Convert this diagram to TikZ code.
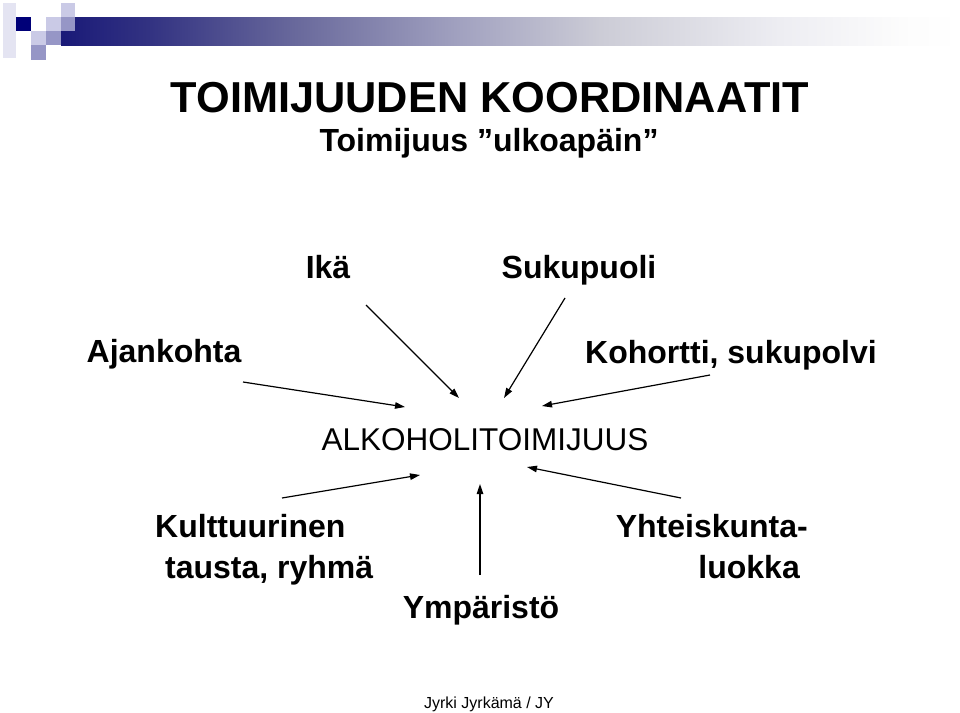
\documentclass[tikz,border=0pt]{standalone}
\usepackage{fontspec}
\setmainfont{Liberation Sans}
\usetikzlibrary{arrows.meta}
\definecolor{slidenavy}{RGB}{0, 0, 120}
\definecolor{squaremid}{RGB}{150, 150, 198}
\definecolor{squarelight}{RGB}{202, 202, 230}
\definecolor{squarepale}{RGB}{228, 228, 242}
\pgfdeclarehorizontalshading{slidebar}{100bp}{rgb(0bp)=(0.10,0.10,0.47); rgb(25bp)=(0.10,0.10,0.47); rgb(30bp)=(0.20,0.20,0.51); rgb(38bp)=(0.41,0.41,0.61); rgb(47bp)=(0.63,0.63,0.75); rgb(55bp)=(0.80,0.80,0.84); rgb(65bp)=(0.93,0.93,0.95); rgb(72bp)=(0.99,0.99,0.99); rgb(75bp)=(1,1,1); rgb(100bp)=(1,1,1)}

\begin{document}
\begin{tikzpicture}[x=1pt, y=-1pt,
    label/.style={inner sep=0pt, font=\fontsize{32}{41}\selectfont\bfseries},
    toarrow/.style={line width=1.2pt, -{Triangle[length=10pt,width=6.5pt]}}]
\useasboundingbox (0,0) rectangle (960,712);
% logo and bar
\shade[shading=slidebar] (61,17) rectangle (960,45);
\fill[squarepale] (3,3) rectangle (16,58);
\fill[slidenavy] (16,17) rectangle (31,31);
\fill[squarelight] (61,3) rectangle (75,17);
\fill[squarelight] (46,17) rectangle (61,31);
\fill[squaremid] (61,17) rectangle (75,31);
\fill[squarelight] (31,31) rectangle (46,45);
\fill[squaremid] (46,31) rectangle (61,45);
\fill[squaremid] (31,45) rectangle (46,60);

% headings
\node[inner sep=0pt, anchor=base, font=\fontsize{43.3}{48}\selectfont\bfseries] (title) at (490,112) {TOIMIJUUDEN KOORDINAATIT};
\node[inner sep=0pt, anchor=base, font=\fontsize{32}{38}\selectfont\bfseries] (subtitle) at (489,151) {Toimijuus ”ulkoapäin”};

% factors
\node[label, anchor=base] (ika) at (328,278) {Ikä};
\node[label, anchor=base] (sukupuoli) at (579,278) {Sukupuoli};
\node[label, anchor=base] (ajankohta) at (164,362) {Ajankohta};
\node[label, anchor=base] (kohortti) at (731,363) {Kohortti, sukupolvi};
\node[inner sep=0pt, anchor=base, font=\fontsize{31.5}{38}\selectfont] (alko) at (485,450) {ALKOHOLITOIMIJUUS};
\node[label, anchor=north west, align=left] (kulttuuri) at (155,514) {Kulttuurinen\\\hspace*{10pt}tausta, ryhmä};
\node[label, anchor=north east, align=right] (luokka) at (808,514) {Yhteiskunta-\\luokka\hspace*{8pt}};
\node[label, anchor=base] (ymparisto) at (481,618) {Ympäristö};
\node[inner sep=0pt, anchor=base, font=\fontsize{16}{19}\selectfont] (tekija) at (489,708) {Jyrki Jyrkämä / JY};

% arrow ends
\coordinate (ajk-a) at (243,382);  \coordinate (ajk-b) at (405,407);
\coordinate (ika-a) at (366,305);  \coordinate (ika-b) at (459,398);
\coordinate (suk-a) at (565,298);  \coordinate (suk-b) at (504,398);
\coordinate (koh-a) at (710,375);  \coordinate (koh-b) at (542,406);
\coordinate (kul-a) at (282,498);  \coordinate (kul-b) at (420,475);
\coordinate (ymp-a) at (480,575);  \coordinate (ymp-b) at (480,484);
\coordinate (luo-a) at (681,498);  \coordinate (luo-b) at (527,467);

\draw[toarrow] (ajk-a) -- (ajk-b);
\draw[toarrow] (ika-a) -- (ika-b);
\draw[toarrow] (suk-a) -- (suk-b);
\draw[toarrow] (koh-a) -- (koh-b);
\draw[toarrow] (kul-a) -- (kul-b);
\draw[toarrow] (ymp-a) -- (ymp-b);
\draw[toarrow] (luo-a) -- (luo-b);
\end{tikzpicture}
\end{document}
